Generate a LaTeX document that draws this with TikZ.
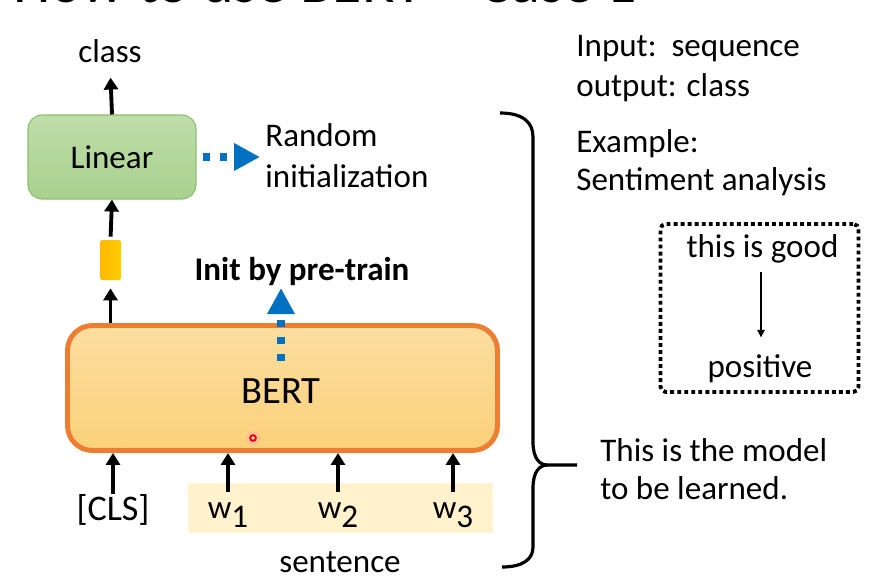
\documentclass[tikz,border=0pt]{standalone}
\usepackage{fontspec}
\setmainfont{Carlito}
\usetikzlibrary{arrows.meta}
\definecolor{lingreen}{RGB}{169,209,142}
\definecolor{linedge}{RGB}{140,190,110}
\definecolor{bertedge}{RGB}{237,125,49}
\definecolor{berttop}{RGB}{252,222,160}
\definecolor{bertbot}{RGB}{251,208,122}
\definecolor{vecgold}{RGB}{255,192,0}
\definecolor{sentbg}{RGB}{255,242,204}
\definecolor{initblue}{RGB}{0,112,192}
\newcommand{\tokw}[1]{w\raisebox{-0.18cm}{#1}}
\tikzset{
  lbl/.style={font=\fontsize{18.8}{22}\selectfont, inner sep=0pt},
  tok/.style={lbl, text height=0.52cm, anchor=base},
  feed/.style={line width=2.2pt, -{Triangle[length=0.24cm, width=0.28cm]}},
  initarrow/.style={initblue, line width=4pt, dash pattern=on 4pt off 5.7pt,
    -{Triangle[length=0.52cm, width=0.52cm]}},
  thinarrow/.style={line width=0.7pt, -{Triangle[length=0.15cm, width=0.15cm]}}
}

\begin{document}
\begin{tikzpicture}

  \useasboundingbox (0,0) rectangle (17.9,11.74);

  % --- title, cut off by the top edge -------------------------------------
  \begin{scope}
    \clip (0,0) rectangle (17.9,11.74);
    \node[anchor=base west, inner sep=0pt, font=\fontsize{34}{40}\selectfont] (title) at (0.26,11.68) {How to use BERT – Case 1};
  \end{scope}

  % --- model: BERT, the [CLS] vector and the linear layer ------------------
  \node[draw=bertedge, line width=2.8pt, rounded corners=0.5cm, top color=berttop, bottom color=bertbot,
        minimum width=8.6cm, minimum height=2.5cm, inner sep=0pt] (bert) at (5.65,3.98) {};
  \node[inner sep=0pt, font=\fontsize{22}{26}\selectfont] (bertlbl) at (5.62,3.92) {BERT};
  \node[draw=linedge, line width=0.6pt, rounded corners=0.28cm, top color=lingreen!75!white, bottom color=lingreen,
        minimum width=3.36cm, minimum height=1.68cm, lbl] (linear) at (2.24,8.6) {Linear};
  \node[rounded corners=1pt, left color=vecgold!90!orange, right color=vecgold!80!yellow,
        minimum width=0.42cm, minimum height=0.8cm, inner sep=0pt] (vec) at (2.21,6.54) {};
  \node[lbl, anchor=base] (out) at (2.2,10.48) {class};

  \draw[feed, shorten >=0.28cm] (linear.north) -- (out.south);
  \draw[feed, shorten <=0.06cm] (vec.north) -- (linear.south);
  \draw[feed, shorten >=0.16cm] (vec |- bert.north) -- (vec.south);

  % --- input tokens --------------------------------------------------------
  \fill[sentbg] (3.76,1.08) rectangle (9.86,2.08);
  \node[tok, font=\fontsize{20.5}{24}\selectfont] (clstok) at (2.26,1.34) {[CLS]};
  \node[tok] (w1) at (4.56,1.38) {\tokw{1}};
  \node[tok] (w2) at (6.76,1.38) {\tokw{2}};
  \node[tok] (w3) at (9.06,1.38) {\tokw{3}};
  \node[lbl, anchor=base] (sent) at (6.8,0.3) {sentence};

  \draw[feed] (clstok) -- (clstok |- bert.south);
  \draw[feed] (w1) -- (w1 |- bert.south);
  \draw[feed] (w2) -- (w2 |- bert.south);
  \draw[feed] (w3) -- (w3 |- bert.south);

  % --- laser pointer dot ---------------------------------------------------
  \fill[red!30, opacity=0.5] (5.06,2.98) circle (0.14);
  \draw[red, line width=1.2pt, fill=white] (5.06,2.98) circle (0.055);

  % --- initialisation notes ------------------------------------------------
  \node[lbl, anchor=base west] (randa) at (5.3,8.8) {Random};
  \node[lbl, anchor=base west] (randb) at (5.3,8.0) {initialization};
  \draw[initarrow, shorten <=0.12cm, shorten >=0.1cm] (linear.east) -- (linear.east -| randa.west);

  \node[lbl, anchor=base, font=\fontsize{18.8}{22}\selectfont\bfseries] (initlbl) at (6.04,6.14) {Init by pre-train};
  \draw[initarrow, shorten <=0.34cm, shorten >=0.05cm] (bertlbl.north) -- (bertlbl.north |- initlbl.south);

  % --- brace round the whole model ----------------------------------------
  \draw[line width=1.8pt]
    (10.0,9.48) .. controls (10.45,9.48) and (10.66,9.3) .. (10.66,9.0)
    -- (10.66,2.9) .. controls (10.66,2.56) and (10.8,2.44) .. (10.95,2.44) -- (11.54,2.44);
  \draw[line width=1.8pt]
    (10.95,2.44) .. controls (10.8,2.44) and (10.66,2.32) .. (10.66,1.98)
    -- (10.66,0.8) .. controls (10.66,0.55) and (10.45,0.4) .. (10.04,0.4);
  \node[lbl, anchor=base west] (modela) at (12.0,2.52) {This is the model};
  \node[lbl, anchor=base west] (modelb) at (12.0,1.76) {to be learned.};

  % --- task description ----------------------------------------------------
  \node[lbl, anchor=base west] (inp) at (11.52,10.6) {Input:\ \ sequence};
  \node[lbl, anchor=base west] (outp) at (11.52,9.8) {output: class};
  \node[lbl, anchor=base west] (exa) at (11.52,8.7) {Example:};
  \node[lbl, anchor=base west] (exb) at (11.52,7.92) {Sentiment analysis};

  \node[draw, line width=2.2pt, dash pattern=on 2.2pt off 1.8pt, rounded corners=3pt,
        minimum width=3.96cm, minimum height=3.36cm] (exframe) at (15.19,5.58) {};
  \node[lbl, anchor=base] (good) at (15.25,6.6) {this is good};
  \node[lbl, anchor=base] (pos) at (15.2,4.2) {positive};
  \draw[thinarrow, shorten <=0.17cm, shorten >=0.33cm] (good.south -| 15.22,0) -- (pos.north -| 15.22,0);

\end{tikzpicture}
\end{document}
